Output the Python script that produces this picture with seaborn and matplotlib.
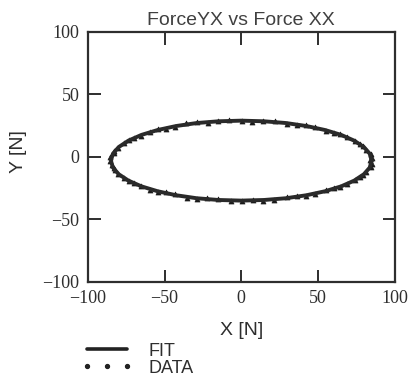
import numpy as np
import pandas as pd
import matplotlib
matplotlib.use("Agg")
import matplotlib.pyplot as plt
import seaborn as sns
from matplotlib.lines import Line2D

# Fitted ellipse
fit_x = [85.0, 83.7, 79.9, 73.6, 65.1, 54.6, 42.5, 29.1, 14.8, 0.0,
         -14.8, -29.1, -42.5, -54.6, -65.1, -73.6, -79.9, -83.7, -85.0,
         -83.7, -79.9, -73.6, -65.1, -54.6, -42.5, -29.1, -14.8, 0.0,
         14.8, 29.1, 42.5, 54.6, 65.1, 73.6, 79.9, 83.7, 85.0]
fit_y = [-3.0, 2.6, 7.9, 13.0, 17.6, 21.5, 24.7, 27.1, 28.5, 29.0,
         28.5, 27.1, 24.7, 21.5, 17.6, 13.0, 7.9, 2.6, -3.0,
         -8.6, -13.9, -19.0, -23.6, -27.5, -30.7, -33.1, -34.5, -35.0,
         -34.5, -33.1, -30.7, -27.5, -23.6, -19.0, -13.9, -8.6, -3.0]

# Measured data points
data_x = [84.2, 85.5, 84.3, 81.6, 79.4, 77.5, 74.1, 69.0, 64.6, 60.5,
          55.1, 48.0, 42.0, 36.5, 29.6, 22.0, 14.3, 7.0, 0.5, -7.8,
          -15.3, -21.5, -28.6, -36.2, -43.0, -49.0, -54.1, -59.6, -65.6,
          -70.0, -73.1, -76.5, -80.4, -82.8, -83.2, -85.3, -85.8, -84.0,
          -83.2, -82.6, -80.4, -76.4, -73.1, -70.1, -65.6, -59.5, -54.1,
          -49.2, -43.0, -35.4, -28.6, -22.4, -15.3, -7.0, 0.5, 7.9,
          14.3, 21.6, 29.6, 36.3, 42.0, 48.2, 55.1, 60.6, 64.6, 69.1,
          74.1, 77.6, 79.4, 81.5, 84.3, 85.4]
data_y = [-2.5, -0.5, 2.0, 5.8, 8.5, 10.0, 12.4, 16.2, 18.2, 19.0,
          20.9, 24.0, 25.3, 25.3, 26.5, 28.8, 29.1, 28.2, 28.4, 29.6,
          29.0, 27.2, 27.7, 26.8, 24.1, 22.5, 22.1, 20.3, 17.0,
          14.8, 13.6, 11.2, 7.3, 4.8, 3.2, 0.3, -3.4, -6.3,
          -9.2, -10.6, -13.3, -17.2, -19.6, -20.8, -23.0, -26.3, -28.1,
          -28.5, -30.1, -32.7, -33.7, -33.2, -33.9, -35.6, -35.4, -34.2,
          -35.1, -34.6, -32.5, -31.4, -31.3, -29.9, -26.9, -25.0, -24.2, -22.1,
          -18.4, -15.9, -14.5, -11.9, -8.0, -5.3]

ticks = [-100, -50, 0, 50, 100]
tick_labels = ["\u2212100", "\u221250", "0", "50", "100"]

sns.set_style("ticks")
plt.rcParams['font.family'] = ['Liberation Serif', 'DejaVu Sans']
SANS = ["Liberation Sans", "DejaVu Sans"]
INK = "#2e2e2e"

fig = plt.figure(figsize=(4.09, 3.85), dpi=100)
ax = fig.add_axes([0.215, 0.268, 0.750, 0.649])

fit_df = pd.DataFrame({"x": fit_x, "y": fit_y})
data_df = pd.DataFrame({"x": data_x, "y": data_y})

sns.lineplot(data=fit_df, x="x", y="y", sort=False, estimator=None,
             color="#2a2a2a", lw=2.8, ax=ax)
sns.scatterplot(data=data_df, x="x", y="y", color="#1a1a1a", marker="^",
                s=13, edgecolor="#1a1a1a", linewidth=0.5, ax=ax)

ax.set_xlim(-100, 100)
ax.set_ylim(-100, 100)
ax.set_xticks(ticks)
ax.set_xticklabels(tick_labels)
ax.set_yticks(ticks)
ax.set_yticklabels(tick_labels)
ax.tick_params(direction="in", length=9, width=1.4, top=True, right=True,
               labelsize=13, colors=INK, pad=6)
for sp in ax.spines.values():
    sp.set_visible(True)
    sp.set_linewidth(1.6)
    sp.set_color(INK)

ax.set_xlabel("X [N]", fontsize=14, color=INK, family=SANS)
ax.set_ylabel("Y [N]", fontsize=14, color=INK, family=SANS)
ax.xaxis.set_label_coords(0.5, -0.162)
ax.yaxis.set_label_coords(-0.20, 0.52)
ax.set_title("ForceYX vs Force XX", fontsize=14, color="#404040", pad=5,
             family=SANS)

handles = [Line2D([], [], color="#222222", lw=2.6),
           Line2D([], [], color="#222222", ls="none", marker="o", markersize=2.8)]
fig.legend(handles, ["FIT", "DATA"], loc="upper left",
           bbox_to_anchor=(0.200, 0.110), frameon=False, numpoints=3,
           handlelength=2.8, handletextpad=0.9, labelspacing=0.0,
           borderpad=0, borderaxespad=0,
           prop={"family": SANS, "size": 13}, labelcolor=INK)

fig.savefig("out.png", dpi=100, facecolor="white")
